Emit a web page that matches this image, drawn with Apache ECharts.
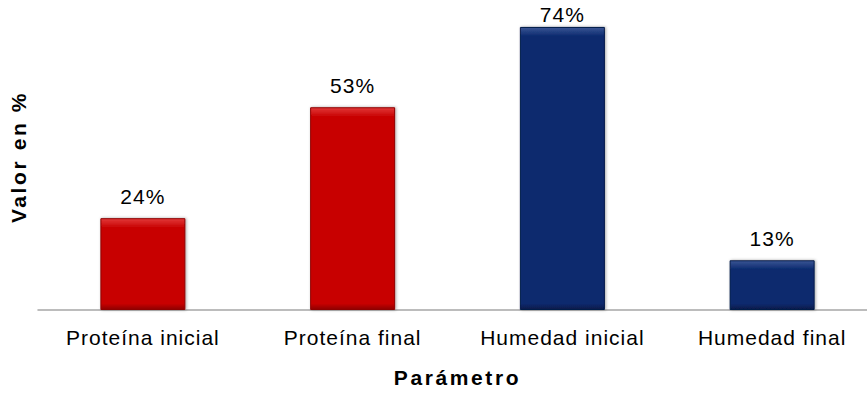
<!DOCTYPE html>
<html>
<head>
<meta charset="utf-8">
<script src="https://cdn.jsdelivr.net/npm/echarts@6/dist/echarts.min.js"></script>
<style>
  html, body { margin: 0; padding: 0; background: #ffffff; overflow: hidden; }
  /* the plot area runs a little past the right edge of the page */
  #chart { width: 877px; height: 393px; }
  /* slightly open tracking on all chart text, wider on the bold axis titles */
  #chart svg text { letter-spacing: 1px; }
  #chart svg text[style*="bold"] { letter-spacing: 2.6px; }
</style>
</head>
<body>
<div id="chart"></div>
<script>
// Parameters and their percentage values
const categories = ['Proteína inicial', 'Proteína final', 'Humedad inicial', 'Humedad final'];
const values = [24, 53, 74, 13];
const barBase = ['#c80000', '#c80000', '#0b2a6e', '#0b2a6e'];
const barLight = ['#e23a3a', '#e23a3a', '#3a5594', '#3a5594'];
const barDark = ['#8e0000', '#8e0000', '#061a48', '#061a48'];

const axisMax = 80;
const plotHeight = 307;

// Bevelled look: light rim at the top, darker at the bottom
function bevel(i) {
  const h = values[i] / axisMax * plotHeight;
  const t = Math.min(0.3, 9 / h);
  const b = Math.max(0.7, 1 - 6 / h);
  return {
    type: 'linear', x: 0, y: 0, x2: 0, y2: 1,
    colorStops: [
      { offset: 0, color: barLight[i] },
      { offset: t, color: barBase[i] },
      { offset: b, color: barBase[i] },
      { offset: 1, color: barDark[i] }
    ]
  };
}

// Value labels sit above the bar; the tallest one is tucked closer so it stays on the page
function labelGap(v) {
  return v > 70 ? 2 : 11;
}

const chart = echarts.init(document.getElementById('chart'), null, { renderer: 'svg' });
chart.setOption({
  backgroundColor: '#ffffff',
  animation: false,
  textStyle: { fontFamily: 'Liberation Sans, Arial, sans-serif' },
  grid: { left: 37, top: 4, right: 0, height: plotHeight, containLabel: false },
  xAxis: {
    type: 'category',
    data: categories,
    name: 'Parámetro',
    nameLocation: 'middle',
    nameGap: 57,
    nameTextStyle: { fontSize: 21, fontWeight: 'bold', color: '#000', padding: [0, 0, 0, 0] },
    axisLine: { lineStyle: { color: '#a6a6a6', width: 1.5 } },
    axisTick: { show: false },
    axisLabel: { fontSize: 21, color: '#000', margin: 17, interval: 0 }
  },
  yAxis: {
    type: 'value',
    min: 0,
    max: axisMax,
    name: 'Valor en %',
    nameLocation: 'middle',
    nameGap: 9,
    nameTextStyle: { fontSize: 21, fontWeight: 'bold', color: '#000' },
    axisLine: { show: false },
    axisTick: { show: false },
    axisLabel: { show: false },
    splitLine: { show: false }
  },
  series: [{
    type: 'bar',
    barWidth: 85,
    data: values.map((v, i) => ({
      value: v,
      label: { distance: labelGap(v) },
      itemStyle: {
        color: bevel(i),
        borderColor: barDark[i],
        borderWidth: 1,
        shadowColor: 'rgba(0,0,0,0.35)',
        shadowBlur: 3,
        shadowOffsetX: 1,
        shadowOffsetY: 0
      }
    })),
    label: {
      show: true,
      position: 'top',
      fontSize: 21,
      color: '#000',
      formatter: p => p.value + '%'
    }
  }]
});
</script>
</body>
</html>
